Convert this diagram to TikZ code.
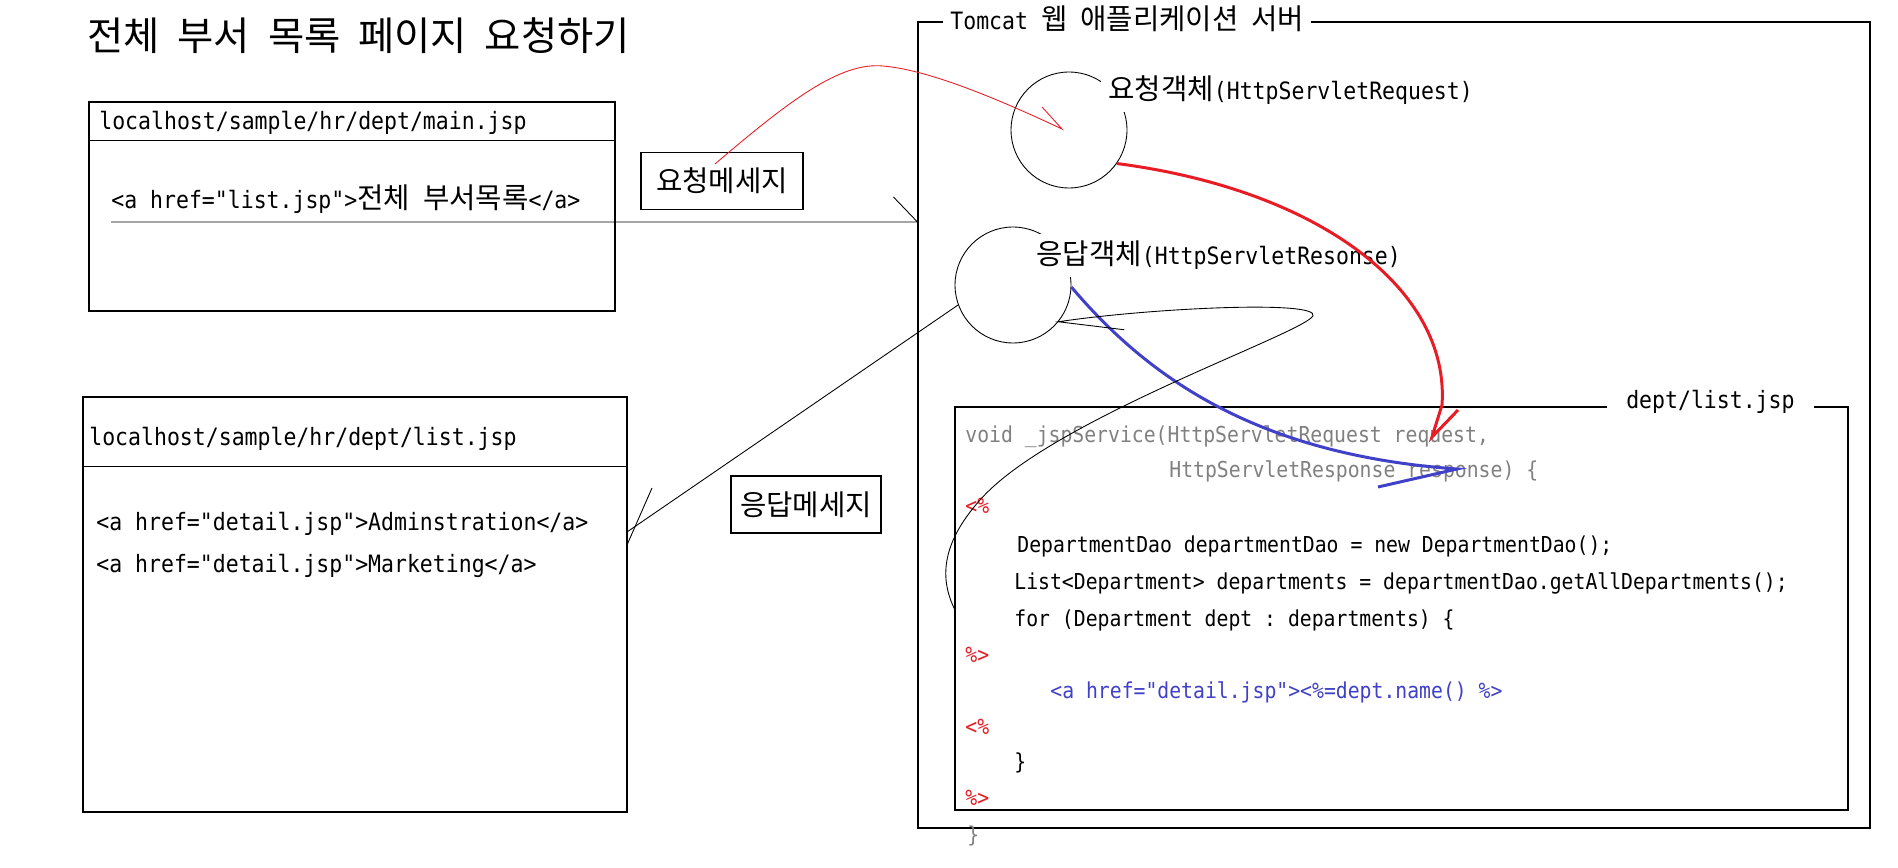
\documentclass[tikz,border=0pt]{standalone}
\usepackage{fontspec}
\setmonofont[FakeStretch=0.9]{DejaVu Sans Mono}
\newfontfamily\krfont[Scale=1.2]{Noto Sans CJK KR}
\newcommand\kr[1]{{\krfont #1}}
\usetikzlibrary{fit}
\definecolor{jspred}{RGB}{232,28,36}
\definecolor{jspblue}{RGB}{64,64,200}
\definecolor{jspgray}{RGB}{128,128,128}
\tikzset{
	code/.style={font=\ttfamily\fontsize{13.6pt}{16pt}\selectfont, inner sep=0pt, anchor=base west},
	jsp/.style={font=\ttfamily\fontsize{12.5pt}{15pt}\selectfont, inner sep=0pt, anchor=base west},
	tag/.style={code, fill=white, inner xsep=4pt, inner ysep=4pt},
	page/.style={draw, line width=0.6pt, inner sep=0pt},
	msgbox/.style={draw, line width=0.6pt, inner sep=0pt, minimum height=1.14cm, font=\ttfamily\fontsize{13.6pt}{16pt}\selectfont},
	obj/.style={circle, draw, line width=0.5pt, minimum size=2.32cm, inner sep=0pt},
	wire/.style={line width=0.5pt},
	flow/.style={line width=1.7pt},
}
\begin{document}
\begin{tikzpicture}[x=0.02cm, y=-0.02cm]
		\useasboundingbox (0,0) rectangle (1898,868);
		\node[code, font=\ttfamily\fontsize{18.7pt}{22pt}\selectfont] (title) at (87,51) {\kr{전체} \kr{부서} \kr{목록} \kr{페이지} \kr{요청하기}};
		\begin{scope}
		\node[page, fit={(89,102) (615,311)}] (mainpage) {};
		\coordinate (mainsep) at (0,140);
		\draw[wire] (mainpage.west |- mainsep) -- (mainpage.east |- mainsep);
		\node[code] (mainurl) at (99,130) {localhost/sample/hr/dept/main.jsp};
		\node[code] (mainlink) at (111,209) {<a href="list.jsp">\kr{전체} \kr{부서목록}</a>};
		\end{scope}
		\begin{scope}
		\node[page, fit={(83,397) (627,812)}] (listpage) {};
		\coordinate (listsep) at (0,466);
		\draw[wire] (listpage.west |- listsep) -- (listpage.east |- listsep);
		\node[code] (listurl) at (89,445) {localhost/sample/hr/dept/list.jsp};
		\node[code] (admin) at (96,530) {<a href="detail.jsp">Adminstration</a>};
		\node[code] (marketing) at (96,572) {<a href="detail.jsp">Marketing</a>};
		\end{scope}
		\node[msgbox, minimum width=3.24cm] (reqmsg) at (722,181) {\kr{요청메세지}};
		\node[msgbox, minimum width=3cm] (resmsg) at (806,504.5) {\kr{응답메세지}};
		\begin{scope}
		\node[page, fit={(918,22) (1870,828)}] (tomcat) {};
		\node[tag] (tomcatname) at (943,30) {Tomcat \kr{웹} \kr{애플리케이션} \kr{서버}};
		\node[obj] (reqobj) at (1069,130) {};
		\node[obj] (resobj) at (1013,285) {};
		\node[tag] (reqname) at (1101,100) {\kr{요청객체}(HttpServletRequest)};
		\node[tag] (resname) at (1029,265) {\kr{응답객체}(HttpServletResonse)};
		\node[page, fit={(955,407) (1848,810)}] (deptjsp) {};
		\node[tag, inner xsep=11pt] (deptname) at (1606.6,409) {dept/list.jsp};
		\node[jsp, text=jspgray] (sig1) at (965,442) {void \_jspService(HttpServletRequest request,};
		\node[jsp, text=jspgray] (sig2) at (1169,478) {HttpServletResponse response) \{};
		\node[jsp, text=jspred] (open1) at (965,513) {<\%};
		\node[jsp] (daoline) at (1017,552) {DepartmentDao departmentDao = new DepartmentDao();};
		\node[jsp] (listline) at (1014,589) {List<Department> departments = departmentDao.getAllDepartments();};
		\node[jsp] (forline) at (1014,626) {for (Department dept : departments) \{};
		\node[jsp, text=jspred] (close1) at (965,662) {\%>};
		\node[jsp, text=jspblue] (anchorline) at (1050,698) {<a href="detail.jsp"><\%=dept.name() \%>};
		\node[jsp, text=jspred] (open2) at (965,734) {<\%};
		\node[jsp] (brace1) at (1014,769) {\}};
		\node[jsp, text=jspred] (close2) at (965,805) {\%>};
		\node[jsp, text=jspgray] (brace2) at (967,842) {\}};
		\end{scope}
		\coordinate (linkstart) at (111,222);
		\coordinate (tomcatin) at (tomcat.west |- linkstart);
		\draw[wire] (linkstart) -- (tomcatin) -- ++(-24,-25);
		\coordinate (listin) at (627,532);
		\draw[wire] (resobj.200) -- (listin);
		\draw[wire] ([shift={(25,-44)}]listin) -- ([shift={(0,13)}]listin);
		\coordinate (msgout) at (715,164);
		\coordinate (reqtip) at (1062,129);
		\draw[wire, jspred] (msgout) .. controls (790,100) and (840,62) .. (883,66) .. controls (930,70) and (1000,100) .. (reqtip) -- ++(-20,-22);
		\coordinate (reqend) at (1432,437);
		\draw[flow, jspred] (reqobj.-35) .. controls (1320,190) and (1450,290) .. (1442,405) -- (reqend) -- ++(26,-27);
		\coordinate (resend) at (1457,469);
		\draw[flow, jspblue] (resobj.-2) .. controls (1150,380) and (1260,455) .. (resend) -- ++(-79,18);
		\coordinate (loopend) at (955,610);
		\draw[wire] (loopend) .. controls (940,580) and (940,545) .. (980,500) .. controls (1050,420) and (1300,335) .. (1313,316) .. controls (1320,300) and (1150,308) .. (resobj.-39) -- ++(66,8);
\end{tikzpicture}
\end{document}
